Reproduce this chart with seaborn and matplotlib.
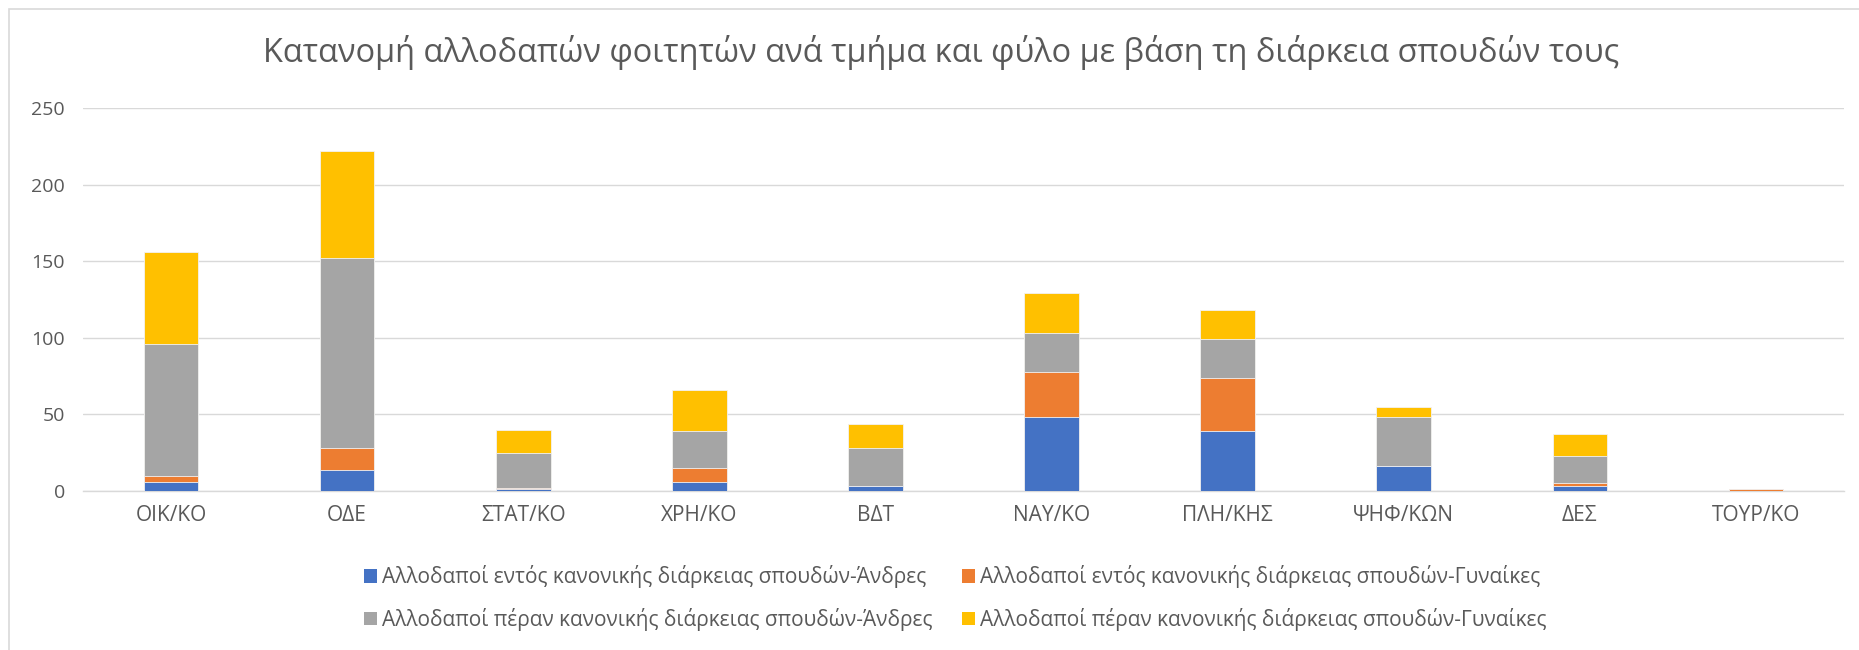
import numpy as np
import pandas as pd
import matplotlib
matplotlib.use("Agg")
import matplotlib.pyplot as plt
from matplotlib.patches import Patch, Rectangle
import seaborn as sns

categories = ["ΟΙΚ/ΚΟ", "ΟΔΕ", "ΣΤΑΤ/ΚΟ", "ΧΡΗ/ΚΟ", "ΒΔΤ", "ΝΑΥ/ΚΟ", "ΠΛΗ/ΚΗΣ", "ΨΗΦ/ΚΩΝ", "ΔΕΣ", "ΤΟΥΡ/ΚΟ"]
in_men = [6, 14, 1, 6, 3, 48, 39, 16, 3, 0]
in_women = [4, 14, 1, 9, 0, 30, 35, 0, 2, 1]
over_men = [86, 124, 23, 24, 25, 25, 25, 32, 18, 0]
over_women = [60, 70, 15, 27, 16, 26, 19, 7, 14, 0]

series_names = [
    "Αλλοδαποί εντός κανονικής διάρκειας σπουδών-Άνδρες",
    "Αλλοδαποί εντός κανονικής διάρκειας σπουδών-Γυναίκες",
    "Αλλοδαποί πέραν κανονικής διάρκειας σπουδών-Άνδρες",
    "Αλλοδαποί πέραν κανονικής διάρκειας σπουδών-Γυναίκες",
]
colors = ["#4472C4", "#ED7D31", "#A5A5A5", "#FFC000"]
yticks = [0, 50, 100, 150, 200, 250]

sns.set_theme(style="white")
plt.rcParams["font.family"] = ["Open Sans", "DejaVu Sans"]
text_color = "#595959"

fig = plt.figure(figsize=(18.59, 6.5), dpi=100)
ax = fig.add_axes([83 / 1859, 1 - 491 / 650, (1844 - 83) / 1859, (491 - 108) / 650])

series = [in_men, in_women, over_men, over_women]
cum = np.cumsum(np.array(series, dtype=float), axis=0)
df = pd.DataFrame({"cat": categories})
for i in range(4):
    df[f"c{i}"] = cum[i]

for i in reversed(range(4)):
    sns.barplot(data=df, x="cat", y=f"c{i}", color=colors[i], saturation=1,
                width=0.31, edgecolor="#F2F2F2", linewidth=0.6, ax=ax, zorder=3)

ax.set_ylim(0, 250)
ax.set_yticks(yticks)
ax.set_xlim(-0.5, len(categories) - 0.5)
ax.yaxis.grid(True, color="#D9D9D9", linewidth=1.0, zorder=0)
ax.set_axisbelow(True)
for s in ["top", "right", "left"]:
    ax.spines[s].set_visible(False)
ax.spines["bottom"].set_color("#D9D9D9")
ax.spines["bottom"].set_linewidth(1.0)
ax.set_xlabel("")
ax.set_ylabel("")
ax.tick_params(axis="y", length=0, pad=13, labelsize=14, labelcolor=text_color)
ax.tick_params(axis="x", length=0, pad=10, labelsize=15, labelcolor=text_color)

fig.text(0.5065, 1 - 53 / 650, "Κατανομή αλλοδαπών φοιτητών ανά τμήμα και φύλο με βάση τη διάρκεια σπουδών τους",
         ha="center", va="center", fontsize=23.4, color=text_color)

order = [0, 2, 1, 3]
handles = [Patch(facecolor=colors[i], edgecolor="none", label=series_names[i]) for i in order]
leg = fig.legend(handles=handles, ncol=2, loc="center", bbox_to_anchor=(0.514, 1 - 598 / 650),
                 frameon=False, fontsize=15, handlelength=0.62, handleheight=0.62,
                 handletextpad=0.25, columnspacing=1.4, labelspacing=0.95, borderaxespad=0)
for t in leg.get_texts():
    t.set_color(text_color)

fig.patches.append(Rectangle((9 / 1859, -0.1), 1.2, 1 - 9 / 650 + 0.1, transform=fig.transFigure,
                             fill=False, edgecolor="#D9D9D9", linewidth=1.2))

fig.savefig("out.png", dpi=100, facecolor="white")
